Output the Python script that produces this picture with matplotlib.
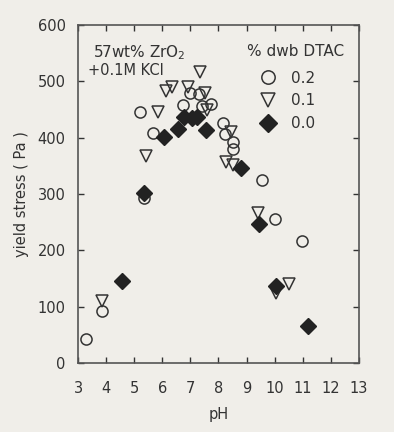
import numpy as np
import matplotlib
matplotlib.use("Agg")
from matplotlib import pyplot as plt

plt.rcParams["font.family"] = "DejaVu Sans"
plt.rcParams.update({'font.size': 11})

# % dwb DTAC = 0.2 (open circles)
ph_02 = [3.27, 3.87, 5.2, 5.35, 5.68, 6.72, 6.99, 7.3, 7.4, 7.72, 8.17, 8.25, 8.53, 8.5, 9.55, 10.0, 10.96]
ys_02 = [43, 92, 446, 292, 408, 458, 479, 478, 457, 460, 426, 406, 392, 379, 324, 255, 217]

# % dwb DTAC = 0.1 (open triangles)
ph_01 = [3.87, 5.42, 5.86, 6.12, 6.35, 6.9, 7.35, 7.52, 7.6, 8.43, 8.27, 8.52, 9.4, 10.05, 10.52]
ys_01 = [110, 367, 446, 482, 490, 490, 517, 480, 450, 410, 356, 352, 266, 125, 140]

# % dwb DTAC = 0.0 (filled diamonds)
ph_00 = [4.58, 5.35, 6.06, 6.56, 6.79, 7.04, 7.22, 7.56, 8.8, 9.45, 10.05, 11.2]
ys_00 = [146, 302, 402, 416, 437, 435, 436, 414, 346, 246, 136, 66]

bg = '#f0eee9'
ink = '#333333'

fig = plt.figure(figsize=(3.94, 4.32), dpi=100, facecolor=bg)
ax = fig.add_axes([0.198, 0.160, 0.713, 0.782], facecolor=bg)

ax.plot(ph_02, ys_02, 'o', ms=8, mfc='none', mec=ink, mew=1.1, label='0.2', zorder=3)
ax.plot(ph_01, ys_01, 'v', ms=8.5, mfc='none', mec=ink, mew=1.1, label='0.1', zorder=3)
ax.plot(ph_00, ys_00, 'D', ms=8, mfc='#222222', mec='#222222', label='0.0', zorder=4)

ax.set_xlim(3, 13)
ax.set_ylim(0, 600)
ax.set_xticks(np.arange(3, 14, 1))
ax.set_yticks(np.arange(0, 601, 100))
ax.tick_params(direction='in', top=True, right=True, length=4, width=1,
               colors=ink, labelcolor=ink, labelsize=10.5)
ax.tick_params(axis='x', pad=13)
ax.tick_params(axis='y', pad=9)
for s in ax.spines.values():
    s.set_color('#555555')
    s.set_linewidth(1.2)

ax.set_xlabel('pH', color=ink, fontsize=10.5, labelpad=8)
ax.set_ylabel('yield stress ( Pa )', color=ink, fontsize=10.5, labelpad=6)

ax.text(0.055, 0.945, '57wt% ZrO$_2$', transform=ax.transAxes, color=ink,
        fontsize=11, va='top')
ax.text(0.035, 0.887, '+0.1M KCl', transform=ax.transAxes, color=ink,
        fontsize=10.5, va='top')

# legend title drawn as plain text, legend entries below it
ax.text(0.601, 0.923, '% dwb DTAC', transform=ax.transAxes, color=ink,
        fontsize=11, va='center')
leg = ax.legend(loc='upper left', bbox_to_anchor=(0.622, 0.865), frameon=False,
                fontsize=11, markerscale=1.2, handletextpad=0.5,
                labelspacing=0.5, borderpad=0, borderaxespad=0)
for t in leg.get_texts():
    t.set_color(ink)

fig.savefig('out.png', dpi=100, facecolor=bg)
